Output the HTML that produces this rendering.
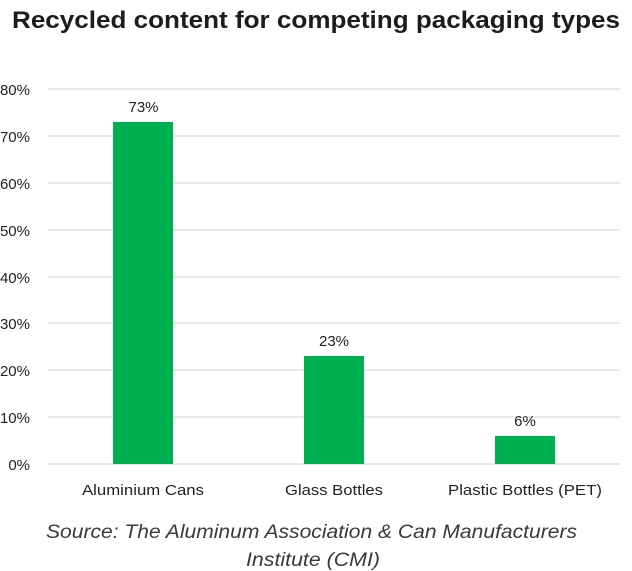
<!DOCTYPE html>
<html><head><meta charset="utf-8"><style>
html,body{margin:0;padding:0;background:#fff;}
svg{display:block;}
</style></head><body>
<svg width="632" height="571" viewBox="0 0 632 571" xmlns="http://www.w3.org/2000/svg">
<rect width="632" height="571" fill="#fff"/>
<text x="12" y="28" font-family="Liberation Sans, sans-serif" font-weight="bold" font-size="24" fill="#1c1c1c" textLength="608" lengthAdjust="spacingAndGlyphs">Recycled content for competing packaging types</text>
<g stroke="#e2e2e2" stroke-width="1.5">
<line x1="48" y1="89" x2="620" y2="89"/>
<line x1="48" y1="136" x2="620" y2="136"/>
<line x1="48" y1="183" x2="620" y2="183"/>
<line x1="48" y1="230" x2="620" y2="230"/>
<line x1="48" y1="277" x2="620" y2="277"/>
<line x1="48" y1="323" x2="620" y2="323"/>
<line x1="48" y1="370" x2="620" y2="370"/>
<line x1="48" y1="417" x2="620" y2="417"/>
<line x1="48" y1="464" x2="620" y2="464"/>
</g>
<g font-family="Liberation Sans, sans-serif" font-size="15" fill="#222" text-anchor="end">
<text x="30" y="95">80%</text>
<text x="30" y="142">70%</text>
<text x="30" y="189">60%</text>
<text x="30" y="236">50%</text>
<text x="30" y="283">40%</text>
<text x="30" y="329">30%</text>
<text x="30" y="376">20%</text>
<text x="30" y="423">10%</text>
<text x="30" y="470">0%</text>
</g>
<g fill="#00b050">
<rect x="113" y="122" width="60" height="342"/>
<rect x="304" y="356" width="60" height="108"/>
<rect x="495" y="436" width="60" height="28"/>
</g>
<g font-family="Liberation Sans, sans-serif" font-size="15" fill="#222" text-anchor="middle">
<text x="143.5" y="112">73%</text>
<text x="334" y="346">23%</text>
<text x="525" y="426">6%</text>
</g>
<g font-family="Liberation Sans, sans-serif" font-size="15" fill="#222">
<text x="82" y="495" textLength="122" lengthAdjust="spacingAndGlyphs">Aluminium Cans</text>
<text x="285" y="495" textLength="98" lengthAdjust="spacingAndGlyphs">Glass Bottles</text>
<text x="448" y="495" textLength="154" lengthAdjust="spacingAndGlyphs">Plastic Bottles (PET)</text>
</g>
<g font-family="Liberation Sans, sans-serif" font-size="19" font-style="italic" fill="#3a3a3a">
<text x="46" y="538" textLength="531" lengthAdjust="spacingAndGlyphs">Source: The Aluminum Association &amp; Can Manufacturers</text>
<text x="246" y="566" textLength="134" lengthAdjust="spacingAndGlyphs">Institute (CMI)</text>
</g>
</svg>
</body></html>
